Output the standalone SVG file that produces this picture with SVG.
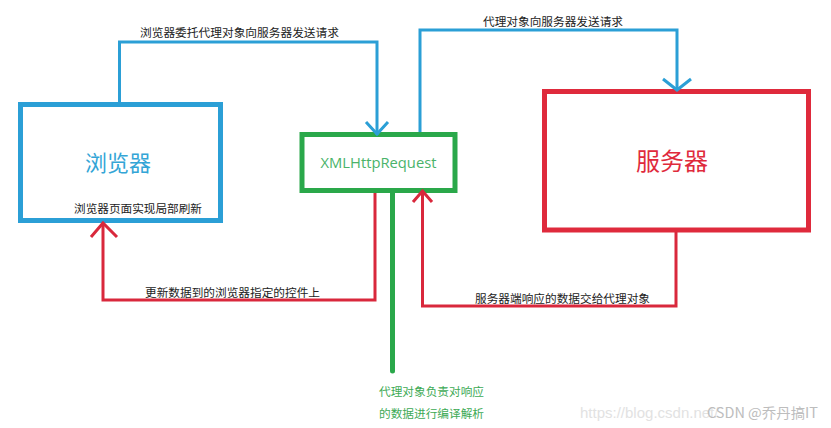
<svg xmlns="http://www.w3.org/2000/svg" width="831" height="428" viewBox="0 0 831 428">
<style>
.lbl{font-family:"Noto Sans CJK SC","Liberation Sans",sans-serif;font-size:11.6px;fill:#222}
.blue{stroke:#2b9fd6;fill:none;stroke-width:3}
.red{stroke:#d9283c;fill:none;stroke-width:3}
.grn{stroke:#2aa84a;fill:none}
</style>
<rect width="831" height="428" fill="#fff"/>
<g id="browser">
<rect x="20.5" y="104.5" width="200" height="116" fill="none" stroke="#2b9fd6" stroke-width="5"/>
<text x="118" y="171" text-anchor="middle" font-family="Noto Sans CJK SC,sans-serif" font-size="22" fill="#33a5d6">浏览器</text>
<text x="138" y="213" text-anchor="middle" class="lbl" textLength="128" lengthAdjust="spacingAndGlyphs">浏览器页面实现局部刷新</text>
</g>
<g id="xhr">
<rect x="302" y="134.5" width="153" height="56" fill="none" stroke="#2aa84a" stroke-width="5"/>
<text x="378.5" y="168" text-anchor="middle" font-family="Open Sans,Liberation Sans,sans-serif" font-size="15" fill="#4ab36a" textLength="116" lengthAdjust="spacingAndGlyphs">XMLHttpRequest</text>
</g>
<g id="server">
<rect x="544.5" y="91.5" width="264" height="138.5" fill="none" stroke="#df2a3c" stroke-width="5"/>
<text x="672" y="170" text-anchor="middle" font-family="Noto Sans CJK SC,sans-serif" font-size="24" fill="#df2a3c">服务器</text>
</g>
<g id="connectors">
<path class="blue" d="M119.5 102 V42 H377 V135"/>
<path class="blue" d="M366 122 L377 134 L388 122"/>
<path class="blue" d="M420 132 V30 H677 V90"/>
<path class="blue" d="M663 79 L677 90 L691 79"/>
<path class="red" d="M676 232 V306 H422.5 V193"/>
<path class="red" d="M413 202 L422.5 191 L432 202"/>
<path class="red" d="M375 193 V300 H103 V224"/>
<path class="red" d="M91 237 L103 223 L117 237"/>
<path d="M392.5 193 V371" stroke="#2aa84a" stroke-width="5" stroke-linecap="round" fill="none"/>
<text x="239.5" y="37" text-anchor="middle" class="lbl" textLength="199" lengthAdjust="spacingAndGlyphs">浏览器委托代理对象向服务器发送请求</text>
<text x="553" y="26" text-anchor="middle" class="lbl" textLength="140" lengthAdjust="spacingAndGlyphs">代理对象向服务器发送请求</text>
<text x="232.5" y="297" text-anchor="middle" class="lbl" textLength="175" lengthAdjust="spacingAndGlyphs">更新数据到的浏览器指定的控件上</text>
<text x="562.5" y="303" text-anchor="middle" class="lbl" textLength="175" lengthAdjust="spacingAndGlyphs">服务器端响应的数据交给代理对象</text>
<text x="379" y="396" class="lbl" style="fill:#3daa55" textLength="105" lengthAdjust="spacingAndGlyphs">代理对象负责对响应</text>
<text x="379" y="418" class="lbl" style="fill:#3daa55" textLength="105" lengthAdjust="spacingAndGlyphs">的数据进行编译解析</text>
</g>
<text x="580" y="418" font-family="Liberation Sans,sans-serif" font-size="15" fill="#e2e2e2">https://blog.csdn.net/</text>
<text x="707" y="418" font-family="Noto Sans CJK SC,sans-serif" font-size="14" fill="#bdbdbd" textLength="111" lengthAdjust="spacingAndGlyphs">CSDN @乔丹搞IT</text>
</svg>
